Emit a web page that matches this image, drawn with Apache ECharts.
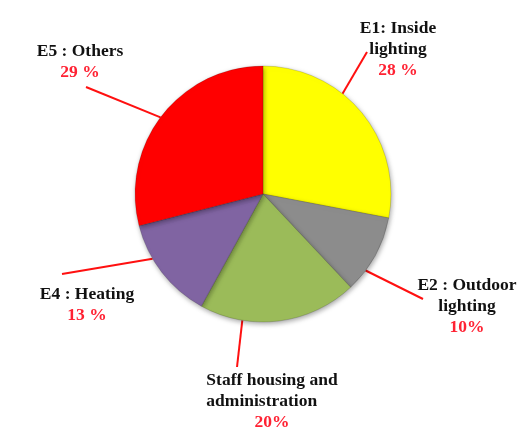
<!DOCTYPE html>
<html>
<head>
<meta charset="utf-8">
<script src="https://cdn.jsdelivr.net/npm/echarts@6/dist/echarts.min.js"></script>
<style>
html,body{margin:0;padding:0;background:#fff;}
#main{width:530px;height:439px;}
</style>
</head>
<body>
<div id="main"></div>
<script>
// Data
var categories = ['E1: Inside\nlighting', 'E2 : Outdoor\nlighting', 'Staff housing and\nadministration', 'E4 : Heating', 'E5 : Others'];
var values = [28, 10, 20, 13, 29];
var percentLabels = ['28 %', '10%', '20%', '13 %', '29 %'];
var colors = ['#FFFF00', '#8C8C8C', '#9BBB59', '#8064A2', '#FF0000'];

// Layout only: label block centres, leader start angle on rim (deg, screen), leader end offset from label centre
var CX = 263, CY = 194, R = 128;
var labelPos = [[398, 49], [467, 306], [272, 401], [87, 305], [80, 62]];
var leaderAngle = [-51.6, 36.7, 99.3, 149.6, 216.8];
var leaderEnd = [[-31, 3], [-44, -7], [-35, -34], [-25, -31], [6, 25]];

var chart = echarts.init(document.getElementById('main'));
var data = categories.map(function (c, i) {
  var item = { name: c, value: values[i], itemStyle: { color: colors[i] } };
  if (i === 2) {
    item.label = { rich: { n: { align: 'left' }, p: { align: 'center' } } };
  }
  return item;
});

chart.setOption({
  backgroundColor: '#ffffff',
  animation: false,
  series: [{
    type: 'pie',
    center: [CX, CY],
    radius: [0, R],
    startAngle: 90,
    clockwise: true,
    avoidLabelOverlap: false,
    data: data,
    itemStyle: {
      borderColor: 'rgba(0,0,0,0.25)',
      borderWidth: 0.6,
      shadowBlur: 5,
      shadowColor: 'rgba(0,0,0,0.35)',
      shadowOffsetX: 1,
      shadowOffsetY: 2
    },
    label: {
      show: true,
      position: 'outside',
      formatter: function (p) {
        var lines = p.name.split('\n').map(function (l) { return '{n|' + l + '}'; });
        return lines.join('\n') + '\n{p|' + percentLabels[p.dataIndex] + '}';
      },
      rich: {
        n: { fontFamily: 'Liberation Serif', fontWeight: 'bold', fontSize: 17.5, lineHeight: 21, color: '#111111' },
        p: { fontFamily: 'Liberation Serif', fontWeight: 'bold', fontSize: 17.5, lineHeight: 21, color: '#FF2233', align: 'center' }
      }
    },
    labelLine: {
      show: true,
      length: 10,
      length2: 0,
      smooth: false,
      lineStyle: { color: '#FF1010', width: 2 }
    },
    labelLayout: function (params) {
      var i = params.dataIndex;
      var p = labelPos[i];
      var a = leaderAngle[i] * Math.PI / 180;
      var s = [CX + R * Math.cos(a), CY + R * Math.sin(a)];
      var e = [p[0] + leaderEnd[i][0], p[1] + leaderEnd[i][1]];
      return {
        x: p[0], y: p[1], align: 'center', verticalAlign: 'middle',
        labelLinePoints: [s, e, e]
      };
    },
    emphasis: { disabled: true }
  }]
});
</script>
</body>
</html>
